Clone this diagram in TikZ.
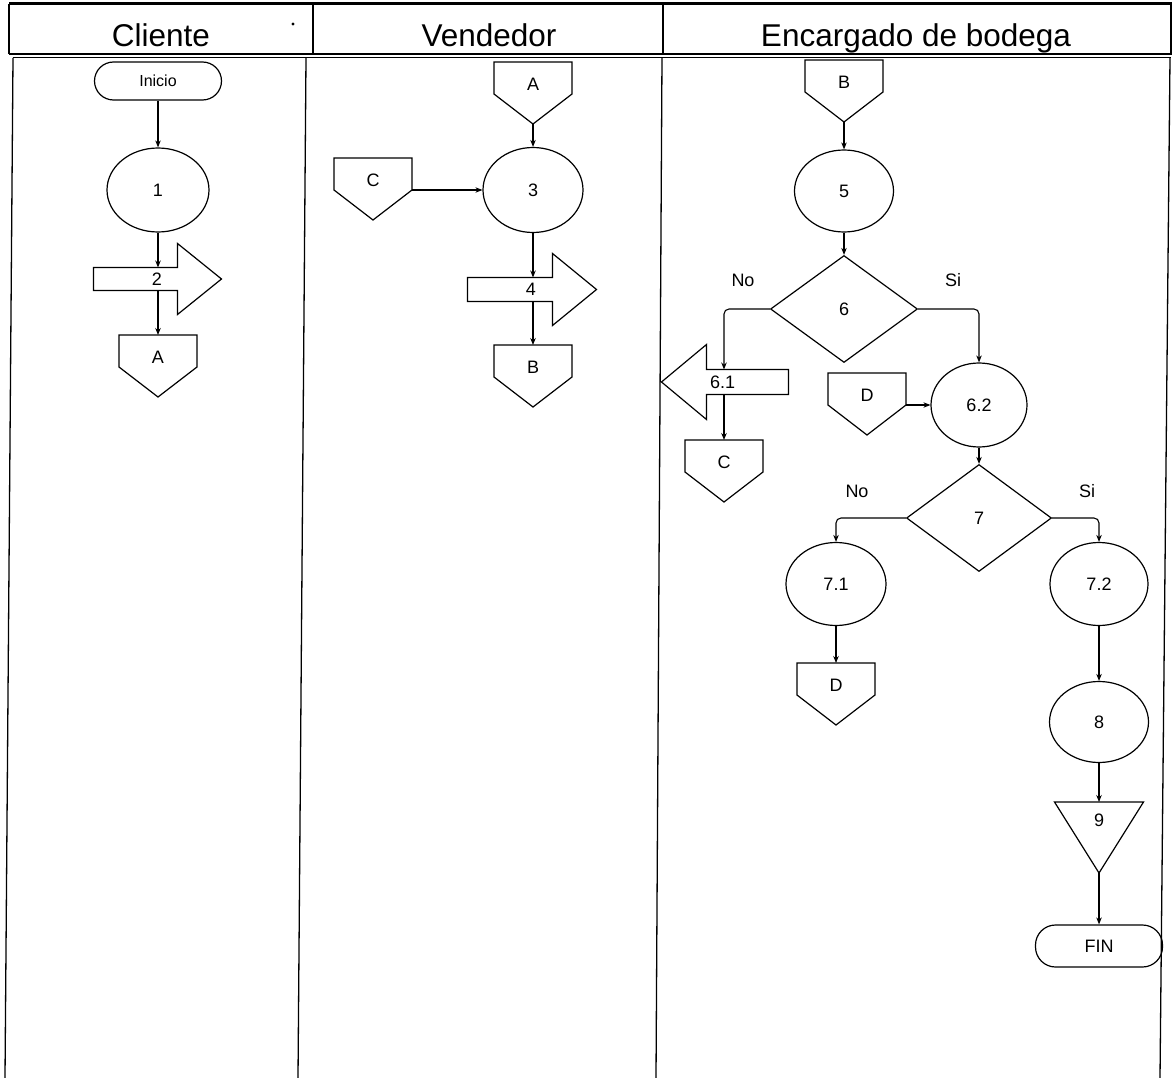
\documentclass[tikz,border=0pt]{standalone}
\usepackage{fontspec}
\setmainfont{Liberation Sans}
\usetikzlibrary{shapes.geometric,arrows.meta,calc}

\newcommand\offpageoutline[1]{\draw[line width=1.2pt] (#1.north west) -- (#1.north east) -- ([yshift=-32pt]#1.north east) -- ([yshift=-62pt]#1.north) -- ([yshift=-32pt]#1.north west) -- cycle;}
\newcommand\rblockarrow[1]{\draw[line width=1.2pt] (#1.north west) -- (#1.north east) -- ([yshift=24pt]#1.north east) -- ([xshift=44pt]#1.east) -- ([yshift=-24pt]#1.south east) -- (#1.south east) -- (#1.south west) -- cycle;}
\newcommand\lblockarrow[1]{\draw[line width=1.2pt] (#1.north east) -- (#1.north west) -- ([yshift=25pt]#1.north west) -- ([xshift=-45pt]#1.west) -- ([yshift=-25pt]#1.south west) -- (#1.south west) -- (#1.south east) -- cycle;}
\newcommand\mergeoutline[1]{\draw[line width=1.2pt] (#1.north west) -- (#1.north east) -- ([yshift=-71pt]#1.north) -- cycle;}

\begin{document}
\begin{tikzpicture}[x=1pt,y=-1pt,
  line width=1pt,
  lbl/.style={font=\fontsize{18}{20}\selectfont},
  hdr/.style={font=\fontsize{31.5}{36}\selectfont, anchor=base},
  proc/.style={ellipse, draw, line width=1.2pt, minimum width=100pt, minimum height=84pt, inner sep=0pt, lbl},
  term/.style={rectangle, rounded corners=19pt, draw, line width=1.2pt, minimum width=127pt, minimum height=38pt, inner sep=0pt, lbl},
  dec/.style={diamond, draw, line width=1.2pt, minimum width=147pt, minimum height=107pt, inner sep=0pt, lbl},
  offp/.style={rectangle, minimum width=77pt, minimum height=44pt, inner sep=0pt, anchor=north, lbl},
  barrow/.style={rectangle, minimum height=23pt, inner sep=0pt, lbl},
  merge/.style={rectangle, minimum width=88pt, minimum height=36pt, inner sep=0pt, anchor=north, lbl},
  conn/.style={-{Stealth[length=7pt,width=5.5pt]}, line width=1.1pt, rounded corners=5pt},
  tag/.style={lbl},
]
\useasboundingbox (0,0) rectangle (1176,1078);

% ---------- frame ----------
\draw[line width=3pt] (9,4) -- (1172,4);
\draw[line width=1.5pt] (9,4) -- (9,54);
\draw[line width=1.5pt] (313,4) -- (313,54);
\draw[line width=1.5pt] (663,4) -- (663,54);
\draw[line width=1.5pt] (1171,4) -- (1171,54);
\draw[line width=1.8pt] (9,54) -- (1172,54);
\draw[line width=1pt] (13,58) -- (1171,58);
\draw[line width=1.3pt] (13,58) -- (5,1078);
\draw[line width=1.3pt] (306,58) -- (298,1078);
\draw[line width=1.3pt] (662,58) -- (656,1078);
\draw[line width=1.3pt] (1170,58) -- (1160,1078);
\fill (293,24) circle (1.6pt);

\node[hdr] (h1) at (161,47) {Cliente};
\node[hdr] (h2) at (489,47) {Vendedor};
\node[hdr] (h3) at (916,47) {Encargado de bodega};

% ---------- Cliente ----------
\node[term, font=\fontsize{16}{18}\selectfont] (ini) at (158,81) {Inicio};
\node[proc, minimum width=102pt] (c1) at (158,190) {1};
\node[barrow, minimum width=83pt, text width=83pt, align=right, minimum height=22pt] (a2) at (135.5,279) {2\rule{15pt}{0pt}};
\rblockarrow{a2}
\node[offp] (A1) at (158,335) {A};
\offpageoutline{A1}

\draw[conn] (ini) -- (c1);
\draw[conn] (c1) -- (c1.south |- a2.north);
\draw[conn] (c1.south |- a2.south) -- (A1.north);

% ---------- Vendedor ----------
\node[offp] (A2) at (533,62) {A};
\offpageoutline{A2}
\node[proc, minimum height=85pt] (c3) at (533,190) {3};
\node[offp] (C1) at (373,158) {C};
\offpageoutline{C1}
\node[barrow, minimum width=84pt, text width=84pt, align=right] (a4) at (510,289.5) {4\rule{16pt}{0pt}};
\rblockarrow{a4}
\node[offp] (B1) at (533,345) {B};
\offpageoutline{B1}

\draw[conn] ([yshift=-62pt]A2.north) -- (c3);
\draw[conn] ([yshift=-32pt]C1.north east) -- (c3);
\draw[conn] (c3) -- (c3.south |- a4.north);
\draw[conn] (c3.south |- a4.south) -- (B1.north);

% ---------- Encargado de bodega ----------
\node[offp] (B2) at (844,60) {B};
\offpageoutline{B2}
\node[proc, minimum width=99pt, minimum height=82pt] (c5) at (844,191) {5};
\node[dec] (d6) at (844,309) {6};
\node[tag] (no6) at (743,280) {No};
\node[tag] (si6) at (953,280) {Si};
\node[barrow, minimum width=81pt, text width=81pt, align=left, minimum height=24pt] (a61) at (747.5,382) {\rule{3pt}{0pt}6.1};
\lblockarrow{a61}
\node[offp] (C2) at (724,440) {C};
\offpageoutline{C2}
\node[offp] (D1) at (867,373) {D};
\offpageoutline{D1}
\node[proc, minimum width=96pt] (c62) at (979,405) {6.2};
\node[dec, minimum width=145pt] (d7) at (979,518) {7};
\node[tag] (no7) at (857,491) {No};
\node[tag] (si7) at (1087,491) {Si};
\node[proc, minimum height=83pt] (c71) at (836,584) {7.1};
\node[offp] (D2) at (836,663) {D};
\offpageoutline{D2}
\node[proc, minimum width=98pt, minimum height=83pt] (c72) at (1099,584) {7.2};
\node[proc, minimum width=99pt, minimum height=81pt] (c8) at (1099,722) {8};
\node[merge] (t9) at (1099,802) {9};
\mergeoutline{t9}
\node[term, minimum height=42pt, rounded corners=20pt] (fin) at (1099,946) {FIN};

\draw[conn] ([yshift=-62pt]B2.north) -- (c5);
\draw[conn] (c5) -- (d6);
\draw[conn] (d6.west) -| (C2.north |- a61.north);
\draw[conn] (C2.north |- a61.south) -- (C2.north);
\draw[conn] (d6.east) -| (c62.north);
\draw[conn] ([yshift=-32pt]D1.north east) -- (c62);
\draw[conn] (c62) -- (d7);
\draw[conn] (d7.west) -| (c71.north);
\draw[conn] (d7.east) -| (c72.north);
\draw[conn] (c71) -- (D2.north);
\draw[conn] (c72) -- (c8);
\draw[conn] (c8) -- (t9.north);
\draw[conn] ([yshift=-71pt]t9.north) -- (fin);
\end{tikzpicture}
\end{document}
